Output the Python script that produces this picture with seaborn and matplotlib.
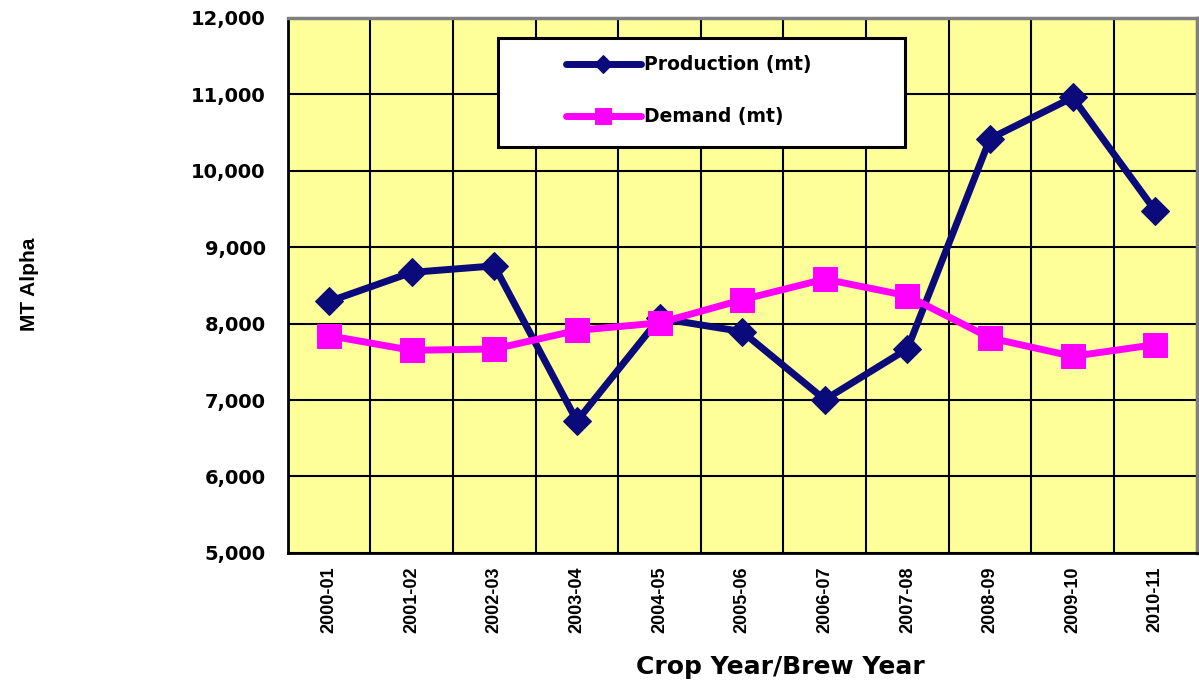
import pandas as pd
import matplotlib.pyplot as plt
import seaborn as sns
from matplotlib.patches import Rectangle
from matplotlib.ticker import FuncFormatter, MultipleLocator

years = ["2000-01", "2001-02", "2002-03", "2003-04", "2004-05", "2005-06",
         "2006-07", "2007-08", "2008-09", "2009-10", "2010-11"]
production = [8290, 8670, 8755, 6725, 8070, 7895, 7005, 7670, 10420, 10958, 9475]
demand = [7842, 7650, 7668, 7911, 8010, 8312, 8582, 8364, 7812, 7572, 7725]

sns.set_style("white")
plt.rcParams["font.family"] = ["Liberation Sans", "DejaVu Sans"]
plt.rcParams["font.weight"] = "bold"
for key in ["text.color", "axes.labelcolor", "xtick.color", "ytick.color"]:
    plt.rcParams[key] = "black"
WIDE = ["DejaVu Sans"]

df = pd.DataFrame({"year": years, "Production (mt)": production, "Demand (mt)": demand})

fig = plt.figure(figsize=(11.99, 6.86), dpi=100)
ax = fig.add_axes([0.240, 0.194, 0.758, 0.780])
ax.set_facecolor("#ffff99")

sns.lineplot(data=df, x="year", y="Production (mt)", ax=ax, color="#0a0a7a",
             linewidth=5, marker="D", markersize=14, markeredgecolor="#0a0a7a",
             label="Production (mt)", sort=False)
sns.lineplot(data=df, x="year", y="Demand (mt)", ax=ax, color="#ff00ff",
             linewidth=5, marker="s", markersize=17, markeredgecolor="#ff00ff",
             label="Demand (mt)", sort=False)

ax.set_xlim(-0.5, len(years) - 0.5)
ax.set_ylim(5000, 12000)
ax.yaxis.set_major_locator(MultipleLocator(1000))
ax.yaxis.set_major_formatter(FuncFormatter(lambda v, p: f"{int(v):,}"))
ax.set_xticks(range(len(years)))
ax.set_xticklabels(years, rotation=90, fontsize=13, fontweight="bold")
ax.set_xticks([i - 0.5 for i in range(len(years) + 1)], minor=True)
ax.tick_params(axis="x", which="major", length=0, pad=10)
ax.tick_params(axis="x", which="minor", length=6, width=1.5, color="black", direction="out")
ax.tick_params(axis="y", length=7, width=1.5, color="black", direction="out", pad=9)
for lab in ax.get_yticklabels():
    lab.set_fontweight("bold")
    lab.set_fontsize(14)
    lab.set_family(WIDE)

ax.grid(True, which="minor", axis="x", color="black", linewidth=1.5)
ax.grid(True, which="major", axis="y", color="black", linewidth=1.5)
ax.set_axisbelow(True)

for s in ["left", "bottom"]:
    ax.spines[s].set_color("black")
    ax.spines[s].set_linewidth(2)
for s in ["top", "right"]:
    ax.spines[s].set_color("#808080")
    ax.spines[s].set_linewidth(2.5)

ax.set_xlabel("Crop Year/Brew Year", fontsize=18, fontweight="bold", family=WIDE)
ax.xaxis.set_label_coords(0.542, -0.19)
ax.set_ylabel("")
fig.text(0.025, 0.585, "MT Alpha", rotation=90, fontsize=15, fontweight="bold",
         ha="center", va="center")

# legend box drawn separately so the entries sit with Excel-style padding
ax.add_patch(Rectangle((0.231, 0.758), 0.448, 0.2035, transform=ax.transAxes,
                       facecolor="white", edgecolor="black", linewidth=2.2, zorder=4))
leg = ax.legend(loc="upper left", bbox_to_anchor=(0.306, 0.930), frameon=False,
                prop={"family": WIDE, "weight": "bold", "size": 13.5},
                handlelength=4.0, handletextpad=0.15, borderpad=0, borderaxespad=0,
                labelspacing=1.75, markerscale=0.65)
leg.set_zorder(5)

fig.savefig("out.png", dpi=100)
